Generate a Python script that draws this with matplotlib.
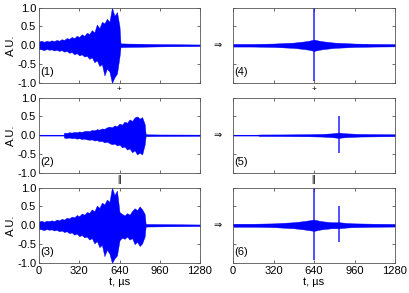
import matplotlib
matplotlib.use("Agg")
import matplotlib.pyplot as plt

plt.rcParams["font.family"] = ["Liberation Sans", "DejaVu Sans"]

BLUE = "#0000ff"

# ---- panel (1): first chirp, envelope ----
T1 = [0, 20, 40, 60, 80, 100, 120, 140, 160, 180, 200, 220, 240, 260, 280, 300,
      320, 340, 360, 380, 400, 420, 440, 460, 480, 500, 520, 540, 560, 580, 600,
      620, 640, 648, 700, 800, 960, 1120, 1280]
U1 = [0.10, 0.12, 0.09, 0.12, 0.10, 0.13, 0.11, 0.14, 0.12, 0.16, 0.14, 0.19,
      0.17, 0.22, 0.19, 0.25, 0.22, 0.29, 0.25, 0.33, 0.30, 0.40, 0.34, 0.55,
      0.45, 0.62, 0.58, 0.70, 0.62, 1.00, 0.78, 0.88, 0.50, 0.05, 0.045, 0.04,
      0.03, 0.025, 0.02]
L1 = [-0.10, -0.11, -0.13, -0.10, -0.12, -0.11, -0.14, -0.12, -0.15, -0.13,
      -0.17, -0.15, -0.20, -0.18, -0.24, -0.21, -0.27, -0.24, -0.30, -0.28,
      -0.36, -0.32, -0.45, -0.40, -0.55, -0.50, -0.80, -0.62, -0.70, -1.00,
      -0.85, -0.75, -0.30, -0.05, -0.045, -0.04, -0.03, -0.025, -0.02]

# ---- panel (2): second, delayed chirp ----
T2 = [0, 196, 200, 220, 240, 260, 280, 300, 320, 340, 360, 380, 400, 420, 440,
      460, 480, 500, 520, 540, 560, 580, 600, 620, 640, 660, 680, 700, 720, 740,
      760, 780, 800, 820, 840, 848, 960, 1120, 1280]
U2 = [0.008, 0.008, 0.07, 0.06, 0.08, 0.07, 0.09, 0.08, 0.10, 0.09, 0.11, 0.12,
      0.11, 0.14, 0.13, 0.16, 0.15, 0.18, 0.17, 0.21, 0.23, 0.21, 0.26, 0.24,
      0.31, 0.28, 0.36, 0.33, 0.42, 0.38, 0.47, 0.50, 0.44, 0.48, 0.30, 0.025,
      0.02, 0.018, 0.015]
L2 = [-0.008, -0.008, -0.065, -0.07, -0.06, -0.08, -0.07, -0.09, -0.08, -0.10,
      -0.09, -0.11, -0.12, -0.11, -0.14, -0.13, -0.16, -0.15, -0.19, -0.17,
      -0.21, -0.24, -0.22, -0.27, -0.25, -0.32, -0.30, -0.38, -0.35, -0.45,
      -0.40, -0.51, -0.46, -0.51, -0.25, -0.025, -0.02, -0.018, -0.015]

# ---- panel (3): sum of both chirps ----
T3 = [0, 20, 40, 60, 80, 100, 120, 140, 160, 180, 200, 220, 240, 260, 280, 300,
      320, 340, 360, 380, 400, 420, 440, 460, 480, 500, 520, 540, 560, 580, 600,
      620, 640, 660, 680, 700, 720, 740, 760, 780, 800, 820, 840, 848, 960, 1120,
      1280]
U3 = [0.10, 0.12, 0.09, 0.12, 0.11, 0.13, 0.11, 0.15, 0.13, 0.17, 0.15, 0.20,
      0.18, 0.23, 0.21, 0.27, 0.24, 0.31, 0.28, 0.35, 0.33, 0.42, 0.37, 0.52,
      0.46, 0.60, 0.55, 0.68, 0.62, 1.00, 0.80, 0.92, 0.35, 0.30, 0.26, 0.32,
      0.28, 0.38, 0.45, 0.40, 0.50, 0.42, 0.30, 0.035, 0.03, 0.025, 0.02]
L3 = [-0.10, -0.11, -0.13, -0.10, -0.12, -0.11, -0.14, -0.12, -0.16, -0.14,
      -0.18, -0.16, -0.21, -0.19, -0.25, -0.22, -0.29, -0.26, -0.32, -0.30,
      -0.38, -0.34, -0.48, -0.42, -0.58, -0.52, -0.82, -0.65, -0.75, -1.00,
      -0.88, -0.80, -0.40, -0.33, -0.36, -0.30, -0.38, -0.34, -0.50, -0.44,
      -0.55, -0.48, -0.30, -0.035, -0.03, -0.025, -0.02]

# ---- panels (4)-(6): compressed pulses ----
T4 = [0, 160, 320, 480, 560, 600, 640, 680, 720, 800, 960, 1120, 1280]
U4 = [0.035, 0.035, 0.045, 0.07, 0.10, 0.12, 0.15, 0.12, 0.10, 0.07, 0.045, 0.035, 0.03]
L4 = [-0.035, -0.035, -0.045, -0.07, -0.10, -0.12, -0.15, -0.12, -0.10, -0.07, -0.045, -0.035, -0.03]
SPK_T4, SPK_U4, SPK_L4 = [640], [1.0], [-0.95]

T5 = [0, 200, 205, 400, 600, 700, 780, 820, 840, 860, 900, 1000, 1120, 1280]
U5 = [0.008, 0.008, 0.02, 0.022, 0.028, 0.035, 0.05, 0.065, 0.07, 0.06, 0.05, 0.035, 0.03, 0.025]
L5 = [-0.008, -0.008, -0.02, -0.022, -0.028, -0.035, -0.05, -0.065, -0.07, -0.06, -0.05, -0.035, -0.03, -0.025]
SPK_T5, SPK_U5, SPK_L5 = [840], [0.52], [-0.47]

T6 = [0, 160, 320, 480, 560, 600, 640, 680, 720, 780, 840, 900, 960, 1120, 1280]
U6 = [0.04, 0.04, 0.05, 0.08, 0.11, 0.13, 0.15, 0.12, 0.10, 0.08, 0.08, 0.06, 0.05, 0.04, 0.035]
L6 = [-0.04, -0.04, -0.05, -0.08, -0.11, -0.13, -0.15, -0.12, -0.10, -0.08, -0.08, -0.06, -0.05, -0.04, -0.035]
SPK_T6, SPK_U6, SPK_L6 = [640, 840], [1.0, 0.52], [-0.92, -0.44]

X_TICKS = [0, 320, 640, 960, 1280]
Y_TICKS = [-1.0, -0.5, 0.0, 0.5, 1.0]
PANEL_LABELS = ["(1)", "(2)", "(3)", "(4)", "(5)", "(6)"]

W, H = 409, 293
FS = 8
fig = plt.figure(figsize=(W / 100, H / 100), dpi=100)

col_x = [39 / W, 233 / W]
col_w = [161 / W, 162 / W]
row_top = [7.5, 97.5, 187.5]
row_h = 75.5

panels = [
    (T1, U1, L1, [], [], []),
    (T2, U2, L2, [], [], []),
    (T3, U3, L3, [], [], []),
    (T4, U4, L4, SPK_T4, SPK_U4, SPK_L4),
    (T5, U5, L5, SPK_T5, SPK_U5, SPK_L5),
    (T6, U6, L6, SPK_T6, SPK_U6, SPK_L6),
]

for k, (t, up, lo, st, su, sl) in enumerate(panels):
    col, row = divmod(k, 3)
    ax = fig.add_axes([col_x[col], 1 - (row_top[row] + row_h) / H, col_w[col], row_h / H])
    ax.fill_between(t, lo, up, color=BLUE, lw=0.3, edgecolor=BLUE)
    ax.plot([0, 1280], [0, 0], color=BLUE, lw=0.8)
    if st:
        ax.vlines(st, sl, su, color=BLUE, lw=1.2, alpha=0.8)
    ax.set_xlim(0, 1280)
    ax.set_ylim(-1, 1)
    ax.set_xticks(X_TICKS)
    ax.set_yticks(Y_TICKS)
    ax.tick_params(direction="in", top=True, right=True, length=2.5, width=0.5,
                   labelsize=FS, pad=2, colors="#333333", labelcolor="black")
    for s in ax.spines.values():
        s.set_linewidth(0.6)
        s.set_color("#555555")
    if row < 2:
        ax.tick_params(labelbottom=False)
    else:
        ax.set_xlabel("t, \u00b5s", fontsize=FS, labelpad=1)
    if col == 1:
        ax.tick_params(labelleft=False)
    else:
        ax.yaxis.set_major_formatter(matplotlib.ticker.FormatStrFormatter("%.1f"))
        ax.set_ylabel("A.U.", fontsize=FS, labelpad=1)
    ax.text(8, -0.72, PANEL_LABELS[k], fontsize=FS, va="center", ha="left")

# arrows and operators between panels
for row in range(3):
    yc = 1 - (row_top[row] + row_h / 2) / H
    fig.text(218 / W, yc, "\u21d2", fontsize=7, ha="center", va="center")
for xc in (119.5 / W, 314 / W):
    fig.text(xc, 1 - 89 / H, "+", fontsize=6, ha="center", va="center")
    fig.text(xc, 1 - 180 / H, "||", fontsize=6.5, ha="center", va="center")

fig.savefig("out.png", dpi=100)
